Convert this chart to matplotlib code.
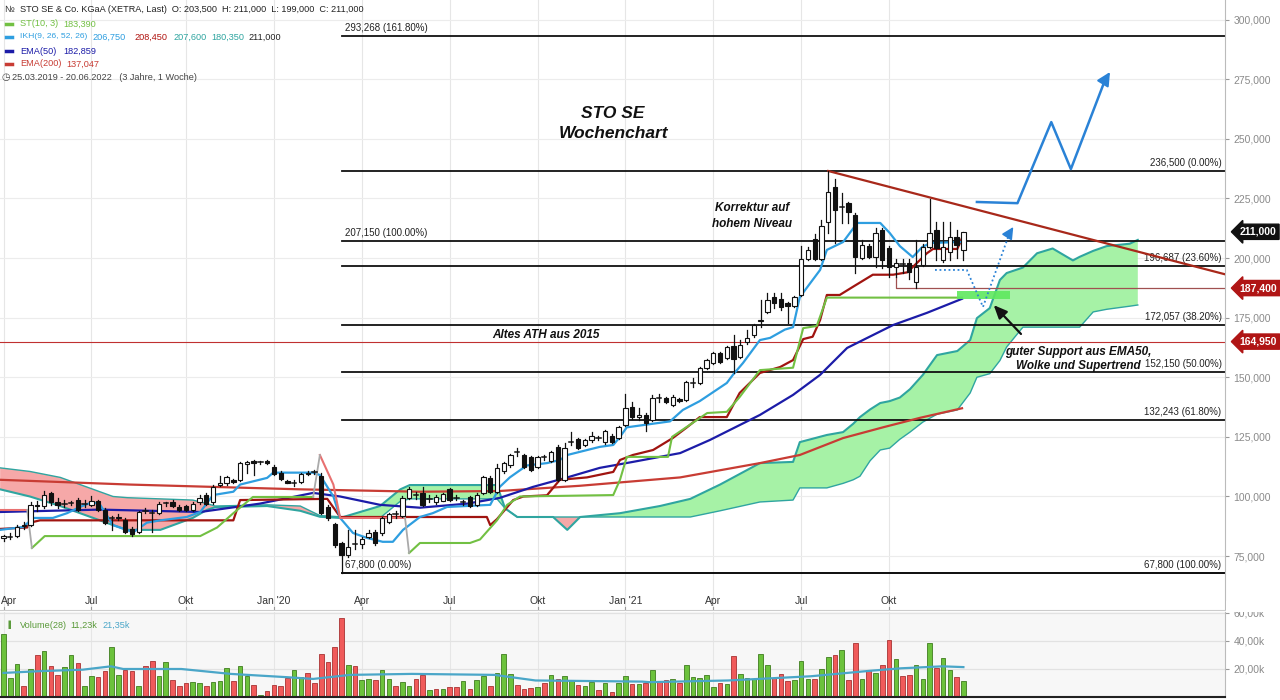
import numpy as np
import matplotlib.pyplot as plt
import pandas as pd
from matplotlib.patches import Rectangle
from matplotlib.lines import Line2D
from matplotlib.transforms import blended_transform_factory

plt.rcParams['font.family'] = ['Liberation Sans', 'DejaVu Sans']

# Wochenkerzen STO SE, Woche 0 = 01.04.2019
start = '2019-04-01'
opens = [82.5, 83.0, 83.5, 87.5, 88.2, 96.5, 96.0, 101.5, 97.5, 96.8,
         97.3, 98.5, 96.8, 96.5, 98.0, 94.4, 90.8, 91.0, 90.0, 86.5,
         85.0, 93.8, 92.8, 93.0, 96.8, 97.5, 95.6, 96.0, 94.5, 97.5,
         100.6, 97.5, 105.0, 105.5, 107.0, 107.0, 113.7, 115.0, 114.3, 115.0,
         112.4, 110.0, 106.5, 105.5, 106.0, 109.5, 110.0, 108.6, 95.6, 88.5,
         80.5, 75.5, 80.0, 80.0, 83.0, 85.0, 84.5, 89.5, 92.3, 92.0,
         99.5, 100.5, 101.5, 99.0, 97.5, 98.3, 103.0, 99.3, 97.8, 99.6,
         96.5, 101.5, 107.8, 102.0, 110.7, 113.2, 118.5, 117.4, 116.6, 112.4,
         116.5, 115.0, 120.8, 107.0, 123.0, 124.0, 121.5, 123.7, 124.3, 122.8,
         125.5, 124.5, 130.0, 137.5, 133.5, 134.3, 132.0, 141.3, 141.3, 138.5,
         141.0, 140.5, 147.8, 147.6, 154.0, 156.0, 160.2, 158.0, 163.1, 158.5,
         164.8, 167.7, 173.5, 177.4, 183.6, 182.8, 181.0, 180.0, 184.5, 199.6,
         208.0, 199.6, 215.0, 229.8, 221.0, 223.0, 218.0, 200.2, 205.0, 200.4,
         211.7, 204.2, 196.2, 197.5, 198.0, 190.0, 197.0, 204.6, 211.7, 199.2,
         202.5, 208.8, 203.5]
highs = [84.0, 84.5, 88.0, 89.5, 97.5, 98.0, 102.5, 102.0, 99.5, 98.5,
         98.0, 99.5, 98.5, 100.0, 98.5, 95.0, 92.0, 92.5, 91.0, 87.0,
         94.0, 95.0, 94.5, 97.8, 97.8, 98.5, 96.5, 96.5, 97.5, 100.5,
         101.5, 105.0, 108.5, 108.5, 107.5, 114.5, 115.0, 115.5, 115.0, 115.5,
         113.0, 110.5, 107.0, 107.0, 110.0, 110.5, 111.0, 110.0, 96.5, 89.0,
         81.0, 86.0, 86.0, 83.0, 86.0, 86.0, 91.5, 93.0, 94.0, 100.0,
         104.0, 102.0, 104.0, 100.5, 100.5, 101.5, 103.5, 100.5, 98.5, 100.0,
         101.5, 108.5, 108.5, 113.5, 114.5, 118.0, 120.5, 118.0, 117.0, 117.0,
         117.5, 119.0, 121.5, 122.5, 127.0, 124.5, 124.0, 127.0, 125.5, 128.0,
         126.0, 129.5, 143.0, 139.5, 137.0, 135.0, 142.5, 143.0, 141.8, 142.5,
         141.5, 148.5, 149.5, 154.5, 157.5, 160.5, 160.8, 163.0, 167.7, 165.6,
         169.8, 172.5, 182.4, 185.5, 185.5, 185.5, 181.5, 184.0, 205.0, 204.5,
         210.0, 216.0, 236.5, 233.0, 227.2, 223.5, 219.0, 207.5, 206.0, 212.6,
         212.5, 205.0, 199.4, 199.4, 199.4, 207.5, 206.0, 224.7, 215.0, 215.0,
         215.0, 211.7, 211.0]
lows = [81.5, 82.0, 83.0, 86.5, 87.5, 94.0, 95.0, 96.5, 95.0, 95.5,
        96.5, 94.0, 95.5, 96.0, 94.0, 88.5, 86.0, 90.0, 84.5, 83.5,
        84.5, 93.0, 85.0, 92.5, 96.0, 95.5, 94.0, 94.0, 94.0, 97.0,
        96.5, 97.0, 104.5, 105.0, 105.5, 106.5, 110.0, 109.0, 113.5, 113.5,
        109.0, 107.0, 105.5, 104.5, 105.5, 109.0, 109.5, 92.5, 90.0, 79.0,
        67.8, 74.5, 78.0, 78.5, 82.5, 79.5, 84.0, 89.0, 91.0, 91.5,
        99.0, 99.0, 96.0, 97.5, 97.0, 98.0, 98.0, 98.5, 96.5, 95.5,
        96.0, 101.0, 101.5, 101.5, 110.0, 112.5, 117.0, 112.0, 110.5, 112.0,
        115.5, 114.5, 106.5, 106.5, 121.5, 120.0, 121.0, 123.0, 123.5, 122.0,
        122.5, 124.0, 129.5, 132.5, 132.0, 127.5, 131.5, 139.5, 139.0, 138.0,
        139.5, 140.0, 146.0, 147.0, 153.5, 155.5, 156.0, 157.5, 151.8, 158.0,
        164.0, 167.0, 171.0, 177.0, 179.0, 178.0, 172.7, 179.5, 184.0, 199.0,
        199.0, 199.0, 210.5, 206.3, 214.7, 214.7, 193.7, 199.5, 200.0, 196.2,
        195.8, 192.0, 192.0, 193.7, 191.2, 187.4, 196.5, 204.0, 199.2, 198.5,
        199.2, 200.0, 199.0]
closes = [83.5, 83.2, 87.0, 88.2, 96.5, 96.0, 100.6, 97.5, 96.5, 97.0,
          97.3, 94.5, 97.0, 98.2, 94.4, 89.0, 91.0, 91.5, 85.0, 84.3,
          93.5, 94.0, 93.0, 97.0, 97.2, 96.0, 94.4, 94.5, 97.0, 99.5,
          97.0, 104.0, 105.7, 108.0, 106.0, 114.0, 114.5, 114.0, 114.3, 114.0,
          109.4, 107.3, 105.8, 105.5, 109.5, 110.0, 110.2, 93.0, 91.0, 79.5,
          75.5, 79.0, 80.0, 82.0, 84.5, 80.5, 91.0, 92.5, 92.5, 99.5,
          103.0, 100.6, 96.5, 99.0, 99.7, 101.0, 98.5, 99.5, 97.8, 96.0,
          100.8, 108.0, 102.0, 112.0, 114.0, 117.4, 118.7, 112.4, 111.0, 116.6,
          116.6, 118.7, 107.0, 120.4, 123.0, 120.4, 123.5, 125.4, 124.6, 127.4,
          122.8, 129.0, 137.1, 133.3, 134.2, 131.0, 141.3, 141.5, 139.5, 141.7,
          140.0, 148.0, 147.6, 154.0, 157.2, 160.2, 156.5, 162.7, 157.7, 163.5,
          166.5, 172.0, 174.0, 182.4, 181.0, 179.5, 180.0, 183.6, 199.6, 203.4,
          199.6, 213.4, 227.7, 220.0, 221.2, 219.3, 200.4, 205.5, 200.4, 210.5,
          199.0, 196.2, 198.0, 197.5, 194.2, 196.2, 204.6, 210.5, 204.2, 204.6,
          208.8, 205.5, 211.0]

# Volumen in Tausend Stueck, Farbe je Woche (g = gruen, r = rot)
volume = [45.0, 13.4, 23.3, 8.2, 19.8, 29.9, 32.7, 21.9, 15.5, 21.4,
          29.9, 24.5, 7.8, 14.8, 14.1, 18.6, 36.0, 15.5, 19.0, 18.6,
          8.2, 21.9, 25.6, 14.8, 24.7, 11.8, 8.2, 9.9, 10.4, 9.9,
          8.2, 10.4, 11.3, 20.7, 11.3, 21.9, 14.8, 8.9, 1.6, 4.0,
          8.7, 8.2, 13.9, 19.3, 14.1, 16.9, 10.1, 30.4, 25.2, 36.0,
          56.5, 22.6, 21.9, 11.8, 12.9, 11.8, 19.1, 12.9, 7.8, 10.6,
          7.8, 12.5, 16.0, 4.7, 5.9, 5.9, 7.1, 7.1, 11.3, 5.4,
          11.8, 14.8, 7.8, 16.9, 31.0, 16.2, 8.7, 5.9, 6.6, 7.1,
          10.1, 16.0, 12.9, 14.8, 12.2, 8.9, 8.2, 10.6, 5.2, 10.1,
          3.5, 9.9, 14.8, 9.4, 9.4, 10.1, 19.3, 11.1, 11.8, 12.9,
          10.1, 22.6, 14.1, 13.6, 16.0, 7.1, 10.1, 9.4, 29.6, 16.5,
          13.4, 12.5, 31.0, 22.6, 13.4, 16.5, 11.3, 12.2, 25.6, 12.9,
          12.9, 20.2, 28.9, 29.9, 33.4, 11.8, 38.4, 12.9, 19.3, 16.9,
          22.6, 40.5, 27.3, 14.8, 16.0, 22.6, 12.9, 38.8, 20.9, 28.0,
          19.3, 14.1, 11.23]
vol_colors = ("gggrgrgrrg" "grggrrggrr" "grrggrrrgg" "rgggrggrgr"
              "rrrggrrrrr" "rgrggrggrg" "grrgrgrrgr" "ggrgggrrrg"
              "rgrggrggrg" "rggrgrgrrg" "rgggggrgrg" "ggggrrrggg"
              "rggrgrrgrg" "rrgrrgggrg" "grg")

# Volumen-Durchschnitt (28)
vol_ma_w = [0, 5.6, 11.7, 15.9, 17.7, 26.3, 33.6, 42.1, 45.8, 51.3, 60.4, 72.6, 78.7,
            94.5, 95.5, 107.2, 119.4, 128.4, 132.8, 138.9, 142]
vol_ma_v = [17.2, 18.5, 19.5, 21.9, 20.0, 20.0, 16.5, 14.1, 12.9, 15.8, 16.5, 15.8, 11.8,
            11.0, 10.6, 11.8, 14.8, 18.8, 20.5, 21.9, 21.35]

# Indikatoren (Wochenindex, Kurs)
ema200_w = [-0.5, 18.7, 43.9, 61.6, 73.4, 85.3, 100.1, 111.9, 117.8, 124.2, 130.1, 135.6, 141.8]
ema200_v = [107, 105, 103, 102, 102.3, 104.5, 108, 114, 117.4, 124.5, 129, 133, 137.0]
ema50_w = [-0.5, 14.3, 29.1, 37.9, 45.8, 49.8, 55.7, 61.6, 68.6, 73.4, 78.3, 83.4, 88.2,
           93.1, 100.1, 104.5, 111.9, 116.8, 120.8, 124.8, 131.6, 136.6, 141.8]
ema50_v = [93.5, 94.5, 93.5, 97, 101.5, 100, 96.5, 95.3, 97, 99.4, 104, 108, 112,
           114.5, 118.2, 123.7, 134.2, 142.6, 151, 162.3, 171.9, 177, 182.9]
tenkan_w = [-0.5, 2.9, 4.4, 7.3, 9.4, 11.3, 13.2, 14.3, 16.2, 19.2, 21.2, 23.2, 27.1, 29.1,
            31.0, 34.0, 35.0, 39.0, 39.9, 45.8, 46.8, 48.8, 49.8, 51.7, 53.8, 56.1, 57.6,
            59.1, 61.6, 63.5, 65.6, 72.0, 73.4, 74.9, 77.4, 80.4, 82.3, 83.4, 88.2, 90.2,
            91.2, 92.2, 98.6, 100.5, 103.0, 107.0, 107.9, 109.4, 111.9, 113.4, 115.6,
            116.8, 117.8, 120.8, 121.8, 124.2, 126.3, 129.7, 131.1, 132.6, 134.5, 135.9,
            137.1, 141.8]
tenkan_v = [86, 87.2, 91, 91, 93, 95.6, 97.7, 96.5, 88, 85, 89, 90, 91.4, 93.5,
            100.6, 102, 105, 107.8, 110, 110, 109, 100, 91, 84.7, 82.6, 81, 81,
            86, 91.4, 93, 95.6, 96.5, 104, 108, 113, 114, 115.3, 117.4, 120.8, 121.6,
            125, 129, 131.5, 136.3, 140, 147.6, 151, 156, 165.6, 166.5, 170,
            171, 183.6, 195, 203.4, 206.7, 214.7, 214.7, 210.5, 205, 200.4, 204.6,
            206.3, 206.75]
kijun_w = [-0.5, 3.5, 3.9, 5.4, 34.0, 35.0, 47.9, 49.8, 71.5, 72.0, 73.0, 75.4, 76.9,
           80.4, 82.3, 86.3, 90.2, 91.2, 93.1, 96.1, 99.0, 101.1, 103.0, 107.0, 108.9,
           111.9, 114.9, 116.8, 118.3, 119.7, 120.8, 121.8, 123.7, 125.7, 128.6, 131.6,
           133.7, 134.5, 136.6, 137.5, 141.1, 141.8]
kijun_v = [86.4, 87, 89, 90, 90, 98.5, 99, 91.4, 91.4, 88, 90.5, 98.5, 100,
           100.5, 107, 108, 110.3, 115.3, 117.4, 119.5, 124.5, 129, 133.3, 133.3, 143.4,
           151.8, 154.3, 157.2, 166, 167, 174, 184.5, 184.5, 188, 193, 193,
           194, 196.2, 202, 203.8, 203.8, 208.45]

# Ichimoku-Wolke: Senkou A / B (26 Wochen voraus)
cloud_w = [-0.5, 3.9, 8.4, 16.2, 18.3, 23.2, 28.0, 30.1, 31.3, 39.0, 43.9, 46.8, 49.8,
           55.7, 58.7, 60.1, 73.0, 74.2, 76.0, 81.3, 83.4, 85.3, 91.2, 97.1, 101.6,
           106.0, 111.9, 116.8, 117.8, 121.8, 124.2, 125.7, 126.7, 128.2, 129.7, 131.1,
           132.6, 134.1, 136.0, 138.1, 141.1, 143.0, 144.0, 145.9, 147.4, 148.4, 150.8,
           152.9, 155.2, 158.2, 159.2, 161.2, 163.2, 166.6, 167.8]
span_a = [103, 100, 96, 88, 86, 86, 91, 94.4, 95.5, 96, 94, 91.5, 91,
          96, 103, 104.8, 104.8, 95, 91.4, 91.4, 86, 91.4, 93, 96, 99,
          105, 114, 114.5, 122.8, 125.8, 127, 130.5, 133.3, 136.5, 139.2, 140,
          141.5, 145, 151, 159.3, 161, 165.6, 174.8, 179, 190.8, 193.7, 196,
          202, 204, 199, 200.5, 203, 205, 206, 207.6]
span_b = [112, 110.5, 108, 100, 99.5, 99, 98.5, 97, 96, 96.5, 96, 92, 91.5,
          91, 98, 99, 99, 95, 91.4, 91.4, 91.4, 91.4, 91.4, 91.4, 91.4,
          94, 97.7, 98.5, 103.6, 103.6, 105.5, 107, 108.5, 115, 119.5, 120.3,
          124, 127, 131.2, 134.5, 136.3, 143.4, 150, 151.5, 157, 162.7, 171,
          171, 171, 171, 171, 177.4, 178.5, 179.8, 180.3]

# Supertrend (10, 3) Abschnitte
st_red1_w, st_red1_v = [-0.5, 3.5], [94.4, 94.4]
st_green1_w = [4.2, 6.1, 29.1, 31.6, 34.0, 36.9, 45.8]
st_green1_v = [78.4, 83.4, 83.4, 87, 93, 99.8, 99.8]
st_red2_w, st_red2_v = [46.8, 48.8, 49.8, 59.4], [117.4, 105, 91, 91]
st_green2_w = [60.0, 61.6, 69.0, 70.5, 73.0, 74.5, 76.4, 90.2, 91.2, 92.2, 98.3, 98.9,
               104.1, 107.0, 108.9, 111.9, 116.8, 118.3, 120.3, 121.8, 141.8]
st_green2_v = [76.3, 80.5, 80.5, 82, 90, 96.5, 100, 100.6, 107, 116.6, 116.6, 125,
               135, 135.5, 141.7, 153, 154, 170.6, 171.5, 183.4, 183.39]
st_flip_w = [[3.5, 4.2], [45.8, 46.8], [59.4, 60.0]]
st_flip_v = [[94.4, 78.4], [99.8, 117.4], [91, 76.3]]

# Fibonacci-Niveaus
fib_left = [(293.268, '293,268 (161.80%)'), (207.150, '207,150 (100.00%)'), (67.800, '67,800 (0.00%)')]
fib_right = [(236.500, '236,500 (0.00%)'), (196.687, '196,687 (23.60%)'), (172.057, '172,057 (38.20%)'),
             (152.150, '152,150 (50.00%)'), (132.243, '132,243 (61.80%)'), (67.800, '67,800 (100.00%)')]
fib_start = 50

month_names = {1: "Jan", 4: "Apr", 7: "Jul", 10: "Okt"}

W, H = 1280, 700
fig = plt.figure(figsize=(12.8, 7), dpi=100)
fig.patch.set_facecolor('white')
ax = fig.add_axes([0, 90 / H, 1225 / W, 610 / H])
axv = fig.add_axes([0, 3 / H, 1225 / W, 85 / H])

x0, x1 = -0.52, 180.7
n = len(closes)
idx = np.arange(n)

# --- Gitter und Monatsbeschriftung (nur im Datenbereich)
weeks = pd.date_range(start, periods=n, freq='W-MON')
month_pos = []
for k, d in enumerate(weeks):
    if d.month in month_names and (k == 0 or weeks[k - 1].month != d.month):
        lab = month_names[d.month] if d.month != 1 else "Jan '%02d" % (d.year % 100)
        month_pos.append((k, lab))
trans = blended_transform_factory(ax.transData, ax.transAxes)
for k, lab in month_pos:
    for a in (ax, axv):
        a.axvline(k, color='#e6e6e6', lw=0.8, zorder=0)
    if k == 0:
        ax.text(x0 + 0.1, 0.0148, lab, transform=trans, ha='left', va='center', fontsize=7.5, color='#333333')
    else:
        ax.text(k, 0.0148, lab, transform=trans, ha='center', va='center', fontsize=7.5, color='#333333')
    ax.plot([k, k], [0.0, 0.005], transform=trans, color='#999999', lw=0.8)

for p in range(75, 301, 25):
    ax.axhline(p, color='#ececec', lw=0.8, zorder=0)

# --- Ichimoku Wolke
ca, cb = np.array(span_a), np.array(span_b)
ax.fill_between(cloud_w, ca, cb, where=ca >= cb, interpolate=True, color='#a6f2a6', lw=0, zorder=1)
ax.fill_between(cloud_w, ca, cb, where=ca < cb, interpolate=True, color='#f6a8a8', lw=0, zorder=1)
ax.plot(cloud_w, span_a, color='#2fa5a0', lw=1.5, zorder=2)
ax.plot(cloud_w, span_b, color='#2fa5a0', lw=1.0, zorder=2)

# --- Fibonacci-Linien
for lvl, lab in fib_left:
    ax.plot([fib_start, x1], [lvl, lvl], color='#111111', lw=1.3, zorder=2)
    ax.text(fib_start + 0.5, lvl + 1.3, lab, fontsize=7, color='#222222', ha='left', va='bottom')
for lvl, lab in fib_right:
    ax.plot([fib_start, x1], [lvl, lvl], color='#111111', lw=1.3, zorder=2)
    ax.text(x1 - 0.5, lvl + 1.3, lab, fontsize=7, color='#222222', ha='right', va='bottom')

# alte Hochs / Unterstuetzung
ax.axhline(164.95, color='#c03030', lw=0.8, zorder=2)
ax.plot([132, 132, x1], [192.0, 187.4, 187.4], color='#a05050', lw=0.9, zorder=2)

# --- Indikatorlinien
ax.plot(ema200_w, ema200_v, color='#c83c34', lw=1.6, zorder=3)
ax.plot(ema50_w, ema50_v, color='#1c1ca8', lw=1.6, zorder=3)
ax.plot(kijun_w, kijun_v, color='#a01410', lw=1.6, zorder=3)
ax.plot(tenkan_w, tenkan_v, color='#2e9ee0', lw=1.6, zorder=3)
for w, v in ((st_red1_w, st_red1_v), (st_red2_w, st_red2_v)):
    ax.plot(w, v, color='#e87070', lw=1.5, zorder=3)
for w, v in ((st_green1_w, st_green1_v), (st_green2_w, st_green2_v)):
    ax.plot(w, v, color='#72c043', lw=1.5, zorder=3)
for w, v in zip(st_flip_w, st_flip_v):
    ax.plot(w, v, color='#aaaaaa', lw=1.3, zorder=3)

# --- Kerzen
for i in idx:
    o, h, l, c = opens[i], highs[i], lows[i], closes[i]
    ax.plot([i, i], [l, h], color='#111111', lw=0.9, zorder=5)
    lo, hi = min(o, c), max(o, c)
    if hi - lo < 0.5:
        ax.plot([i - 0.32, i + 0.32], [c, c], color='#111111', lw=1.1, zorder=6)
    else:
        ax.add_patch(Rectangle((i - 0.32, lo), 0.64, hi - lo,
                               facecolor='white' if c >= o else '#111111',
                               edgecolor='#111111', lw=0.8, zorder=6))

# --- Trendlinie
ax.plot([122, x1], [236.5, 236.5 - 0.738 * (x1 - 122)], color='#a8281a', lw=1.6, zorder=4)

# --- Szenario-Pfeile
ax.add_patch(Rectangle((141.1, 182.8), 7.8, 3.4, facecolor='#5ee85e', edgecolor='none', alpha=0.9, zorder=4))
dot_w, dot_v = [137.8, 142.5, 144.9, 148.9], [195, 195, 179.5, 211.0]
ax.plot(dot_w, dot_v, color='#2a82d6', lw=1.3, ls=(0, (1, 1.5)), zorder=4)
ax.annotate('', xy=(149.6, 214.0), xytext=(148.6, 209.5),
            arrowprops=dict(arrowstyle='-|>,head_width=0.35,head_length=0.7', color='#2a82d6', lw=1.2))
path_w, path_v = [144.0, 150.0, 155.0, 157.9, 163.0], [223.5, 223.0, 257.0, 237.3, 275.0]
ax.plot(path_w, path_v, color='#2a82d6', lw=1.8, zorder=4)
ax.annotate('', xy=(163.9, 279.0), xytext=(162.5, 272.5),
            arrowprops=dict(arrowstyle='-|>,head_width=0.4,head_length=0.8', color='#2a82d6', lw=1.5))
ax.annotate('', xy=(146.2, 181.1), xytext=(150.8, 167.3),
            arrowprops=dict(arrowstyle='-|>,head_width=0.35,head_length=0.8', color='#111111', lw=1.6))

# --- Beschriftungen im Chart
tkw = dict(fontweight='bold', fontstyle='italic', color='#111111', ha='center', va='center')
ax.text(90.2, 260.8, 'STO SE', fontsize=12.5, **tkw)
ax.text(90.2, 252.2, 'Wochenchart', fontsize=12.5, **tkw)
ax.text(110.7, 221.0, 'Korrektur auf', fontsize=8.5, **tkw)
ax.text(110.7, 214.3, 'hohem Niveau', fontsize=8.5, **tkw)
ax.text(80.2, 167.8, 'Altes ATH aus 2015', fontsize=8.5, **tkw)
ax.text(159.0, 160.6, 'guter Support aus EMA50,', fontsize=8.5, **tkw)
ax.text(159.0, 154.7, 'Wolke und Supertrend', fontsize=8.5, **tkw)

# --- Preisachse rechts
ax.set_xlim(x0, x1)
ax.set_ylim(52.4, 308.2)
ax.yaxis.tick_right()
ax.set_yticks(range(75, 301, 25))
ax.set_yticklabels(['%d,000' % p for p in range(75, 301, 25)])
ax.tick_params(axis='y', colors='#999999', labelcolor='#8a8a8a', labelsize=7.5, length=3, pad=3)
ax.set_xticks([])
for s in ('top', 'left'):
    ax.spines[s].set_visible(False)
ax.spines['right'].set_color('#bbbbbb')
ax.spines['bottom'].set_color('#cccccc')

boxes = [(211.0, '211,000', '#111111'), (187.4, '187,400', '#b01515'), (164.95, '164,950', '#b01515')]
ytr = blended_transform_factory(ax.transAxes, ax.transData)
for lvl, lab, col in boxes:
    ax.text(1.012, lvl, lab, transform=ytr, fontsize=7.5, fontweight='bold', color='white',
            ha='left', va='center', zorder=10,
            bbox=dict(boxstyle='larrow,pad=0.25', facecolor=col, edgecolor=col))

# --- Volumen
vcols = ['#6cc23c' if ch == 'g' else '#f05a5a' for ch in vol_colors]
vedge = ['#3f7d1e' if ch == 'g' else '#a83232' for ch in vol_colors]
axv.set_facecolor('#f7f7f7')
for g in (20, 40, 60):
    axv.axhline(g, color='#e2e2e2', lw=0.9, zorder=0)
axv.bar(idx, volume, width=0.68, color=vcols, edgecolor=vedge, lw=0.6, zorder=2)
axv.plot(vol_ma_w, vol_ma_v, color='#4aa6c8', lw=1.6, zorder=3)
axv.set_xlim(x0, x1)
axv.set_ylim(0, 60.7)
axv.yaxis.tick_right()
axv.set_yticks([20, 40, 60])
axv.set_yticklabels(['20,00k', '40,00k', '60,00k'])
axv.tick_params(axis='y', colors='#999999', labelcolor='#8a8a8a', labelsize=7.5, length=3, pad=3)
axv.set_xticks([])
for s in ('top', 'left'):
    axv.spines[s].set_visible(False)
axv.spines['right'].set_color('#bbbbbb')
axv.spines['bottom'].set_color('#222222')
axv.spines['bottom'].set_linewidth(1.5)
fig.patches.append(Rectangle((1226 / W, 88 / H), 54 / W, 11 / H, transform=fig.transFigure,
                             facecolor='white', edgecolor='none', zorder=20))

# --- Kopfzeile / Legende
def ftxt(x, y, s, col, size=6.6):
    fig.text(x / W, 1 - y / H, s, color=col, fontsize=size, va='center', ha='left')

def dash(y, col):
    fig.add_artist(Line2D([6 / W, 12 / W], [1 - y / H, 1 - y / H], color=col, lw=2.5,
                          transform=fig.transFigure))

ftxt(4, 10, '\u2116', '#333333')
ftxt(20, 10, 'STO SE & Co. KGaA (XETRA, Last)  O: 203,500  H: 211,000  L: 199,000  C: 211,000', '#222222')
dash(24, '#72c043')
ftxt(20, 24, 'ST(10, 3)', '#72c043')
ftxt(63, 24, '183,390', '#72c043')
dash(37, '#2e9ee0')
ftxt(20, 37, 'IKH(9, 26, 52, 26)', '#2e9ee0', size=6.1)
ftxt(92, 37, '206,750', '#2e9ee0')
ftxt(134, 37, '208,450', '#b01410')
ftxt(173, 37, '207,600', '#2fa5a0')
ftxt(211, 37, '180,350', '#2fa5a0')
ftxt(248, 37, '211,000', '#222222')
dash(51, '#1c1ca8')
ftxt(20, 51, 'EMA(50)', '#1c1ca8')
ftxt(63, 51, '182,859', '#1c1ca8')
dash(64, '#c83c34')
ftxt(20, 64, 'EMA(200)', '#c83c34')
ftxt(66, 64, '137,047', '#c83c34')
ftxt(2, 77, '\u25F7', '#444444', size=7)
ftxt(12, 77, '25.03.2019 - 20.06.2022   (3 Jahre, 1 Woche)', '#444444')

ftxt(6, 625, '\u2590', '#5a9a3a', size=5)
ftxt(20, 625, 'Volume(28)', '#5a9a3a')
ftxt(70, 625, '11,23k', '#5a9a3a')
ftxt(102, 625, '21,35k', '#4aa6c8')

fig.savefig('out.png', dpi=100)
